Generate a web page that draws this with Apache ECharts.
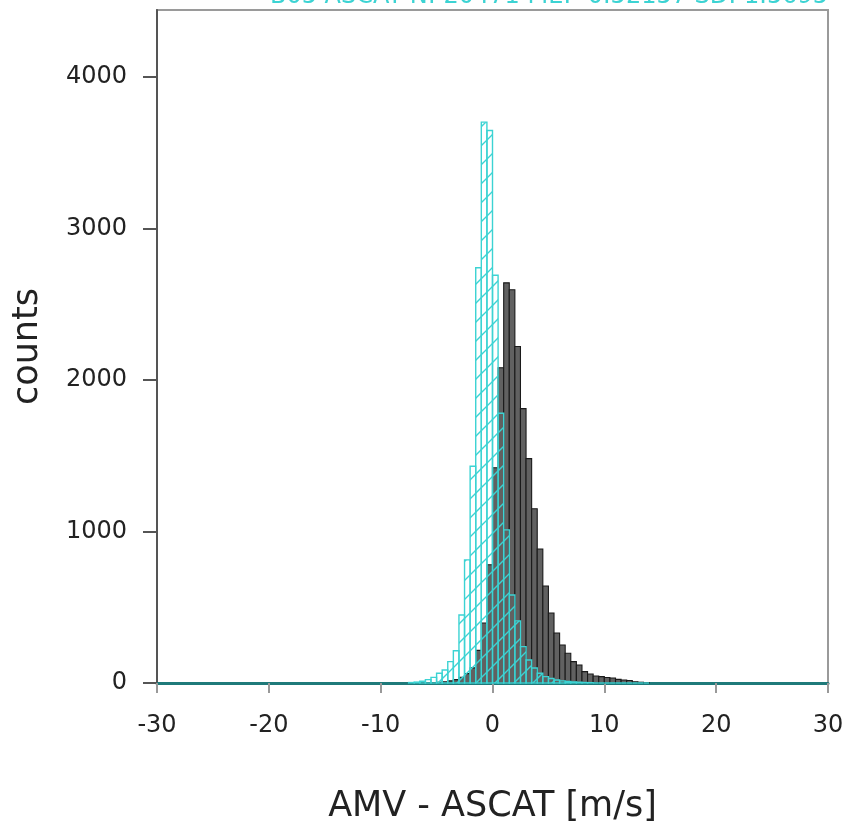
<!DOCTYPE html>
<html>
<head>
<meta charset="utf-8">
<script src="https://cdn.jsdelivr.net/npm/echarts@6/dist/echarts.min.js"></script>
<style>html,body{margin:0;padding:0;background:#fff;}#chart{width:846px;height:825px;}</style>
</head>
<body>
<div id="chart"></div>
<script>
// Bin left edges (bin width 0.5 m/s)
const binWidth = 0.5;
const bins = [-7.5,-7,-6.5,-6,-5.5,-5,-4.5,-4,-3.5,-3,-2.5,-2,-1.5,-1,-0.5,0,0.5,1,1.5,2,2.5,3,3.5,4,4.5,5,5.5,6,6.5,7,7.5,8,8.5,9,9.5,10,10.5,11,11.5,12,12.5,13,13.5];
// Black histogram counts
const blackCounts = [0,0,1,2,3,5,8,14,22,38,62,100,215,396,780,1420,2080,2640,2594,2220,1810,1480,1150,884,640,462,330,251,196,141,119,75,59,46,42,36,33,24,20,16,8,5,3];
// Cyan (B05 ASCAT) histogram counts
const cyanCounts = [3,6,12,22,37,64,86,141,213,449,812,1430,2740,3700,3645,2690,1780,1010,581,410,240,152,99,64,42,30,20,14,10,7,5,3,2,0,0,0,0,0,0,0,0,0,0];
const xTicks = [-30,-20,-10,0,10,20,30];
const yTicks = [0,1000,2000,3000,4000];
const titleText = 'B05 ASCAT N: 20471 ME: -0.52157 SD: 1.5695';

const cyan = '#3cd3d3';

// hatch pattern
const hatch = document.createElement('canvas');
hatch.width = 19; hatch.height = 19;
(function(){
  const c = hatch.getContext('2d');
  c.strokeStyle = cyan; c.lineWidth = 1.4;
  c.beginPath();
  c.moveTo(-2, 21); c.lineTo(21, -2);
  c.moveTo(-2, 2); c.lineTo(2, -2);
  c.moveTo(17, 21); c.lineTo(21, 17);
  c.stroke();
})();

function makeRender(fill, stroke, lw) {
  return function(params, api) {
    const x0 = api.value(0), x1 = api.value(1), v = api.value(2);
    const p0 = api.coord([x0, 0]);
    const p1 = api.coord([x1, v]);
    return {
      type: 'rect',
      shape: { x: p0[0], y: p1[1], width: p1[0] - p0[0], height: p0[1] - p1[1] },
      style: { fill: fill, stroke: stroke, lineWidth: lw }
    };
  };
}

const blackData = bins.map((b, i) => [b, b + binWidth, blackCounts[i]]);
const cyanData = bins.map((b, i) => [b, b + binWidth, cyanCounts[i]]);

const chart = echarts.init(document.getElementById('chart'), null, { renderer: 'canvas' });
chart.setOption({
  animation: false,
  backgroundColor: '#fff',
  title: {
    text: titleText,
    right: 18,
    top: -15,
    padding: 0,
    textStyle: { color: cyan, fontSize: 24, fontWeight: 'normal', fontFamily: 'DejaVu Sans' }
  },
  grid: {
    left: 157, right: 18, top: 10, bottom: 142,
    containLabel: false, outerBoundsMode: 'none',
    show: true, borderColor: '#9a9a9a', borderWidth: 2
  },
  xAxis: {
    type: 'value', min: -30, max: 30, interval: 10,
    name: 'AMV - ASCAT [m/s]', nameLocation: 'middle', nameGap: 106,
    nameTextStyle: { fontSize: 35, color: '#222', fontFamily: 'DejaVu Sans' },
    axisLine: { show: true, onZero: false, lineStyle: { color: '#1f7a7a', width: 3 } },
    axisTick: { show: true, length: 10, customValues: xTicks, lineStyle: { color: '#999', width: 2 } },
    axisLabel: { margin: 31, fontSize: 24, color: '#222', fontFamily: 'DejaVu Sans', customValues: xTicks,
      formatter: v => String(v) },
    splitLine: { show: false }
  },
  yAxis: {
    type: 'value', min: 0, max: 4440, interval: 1000,
    name: 'counts', nameLocation: 'middle', nameGap: 112, nameRotate: 90,
    nameTextStyle: { fontSize: 35, color: '#222', fontFamily: 'DejaVu Sans' },
    axisLine: { show: true, onZero: false, lineStyle: { color: '#555', width: 2 } },
    axisTick: { show: true, length: 14, customValues: yTicks, lineStyle: { color: '#555', width: 2 } },
    axisLabel: { margin: 30, fontSize: 24, color: '#222', fontFamily: 'DejaVu Sans', customValues: yTicks,
      formatter: v => String(v) },
    splitLine: { show: false }
  },
  series: [
    {
      type: 'custom', name: 'black', data: blackData,
      encode: { x: [0, 1], y: 2 },
      renderItem: makeRender('#616161', '#1a1a1a', 1.1),
      z: 2
    },
    {
      type: 'custom', name: 'cyan', data: cyanData,
      encode: { x: [0, 1], y: 2 },
      renderItem: makeRender({ image: hatch, repeat: 'repeat' }, cyan, 1.4),
      z: 3
    }
  ]
});
</script>
</body>
</html>
